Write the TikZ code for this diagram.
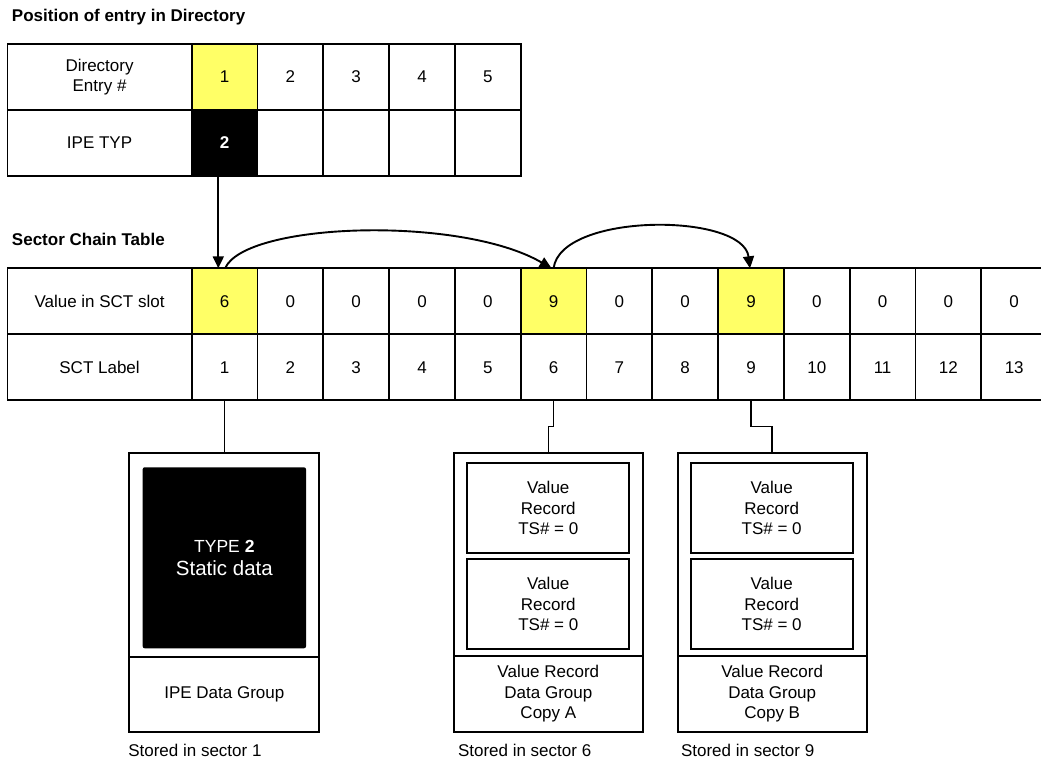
\documentclass[tikz,border=0pt]{standalone}
\usepackage{fontspec}
\setmainfont{Liberation Sans}
\usetikzlibrary{arrows.meta,calc}
\definecolor{hiyel}{RGB}{255,255,102}
\newcommand{\dgbody}{\fontsize{17}{20.5}\selectfont}
\newcommand{\dgbig}{\fontsize{20.5}{23.4}\selectfont}
\newcommand{\dgtitle}{\fontsize{17}{20}\selectfont\bfseries}
\begin{document}
\begin{tikzpicture}[x=1pt,y=-1pt,
  every node/.style={inner sep=0pt, outer sep=0pt},
  tcell/.style={draw=black, line width=1.8pt, minimum width=65.8pt, minimum height=66pt,
    anchor=north west, font=\dgbody, align=center},
  lcell/.style={tcell, minimum width=184.3pt},
  hcell/.style={tcell, fill=hiyel},
  bcell/.style={tcell, fill=black, text=white, font=\dgbody\bfseries},
  boxs/.style={draw=black, line width=1.8pt, anchor=north west, font=\dgbody, align=center},
  conn/.style={draw=black, line width=1.6pt},
  arr/.style={draw=black, line width=1.9pt, -{Triangle[length=12pt,width=11pt]}},
  stored/.style={anchor=base west, font=\dgbody}
]
\useasboundingbox (0,0) rectangle (1041,762);
\clip (0,0) rectangle (1041,762);

% titles
\node[anchor=base west, font=\dgtitle] (title1) at (12,21.5) {Position of entry in Directory};
\node[anchor=base west, font=\dgtitle] (title2) at (12,245.5) {Sector Chain Table};

% directory table
\node[lcell] (dlab) at (7.4,44) {Directory\\Entry \#};
\node[hcell] (d1) at (191.7,44) {1};
\foreach \i in {2,...,5} \node[tcell] (d\i) at ({191.7+65.8*(\i-1)},44) {\i};
\node[lcell] (tlab) at (7.4,110) {IPE TYP};
\node[bcell] (t1) at (191.7,110) {2};
\foreach \i in {2,...,5} \node[tcell] (t\i) at ({191.7+65.8*(\i-1)},110) {};

% sector chain table
\node[lcell] (vlab) at (7.4,268.3) {Value in SCT slot};
\foreach \i/\v/\s in {1/6/hcell,2/0/tcell,3/0/tcell,4/0/tcell,5/0/tcell,6/9/hcell,7/0/tcell,
  8/0/tcell,9/9/hcell,10/0/tcell,11/0/tcell,12/0/tcell,13/0/tcell}
  \node[\s] (v\i) at ({191.7+65.8*(\i-1)},268.3) {\v};
\node[lcell] (llab) at (7.4,334.3) {SCT Label};
\foreach \i in {1,...,13} \node[tcell] (l\i) at ({191.7+65.8*(\i-1)},334.3) {\i};

% box 1
\node[boxs, minimum width=190pt, minimum height=203.4pt] (b1top) at (129.3,453.3) {};
\node[boxs, minimum width=190pt, minimum height=75.6pt] (b1bot) at (129.3,656.7) {IPE Data Group};
\node[anchor=north west, fill=black, rounded corners=2pt, minimum width=163.3pt, minimum height=181pt,
  text=white, align=center, font=\dgbig] (type2) at (142.7,467.3)
  {{\fontsize{17.5}{20}\selectfont TYPE \textbf{2}}\\Static data};

% box 2
\node[boxs, minimum width=188.7pt, minimum height=202.4pt] (b2top) at (454,453.3) {};
\node[boxs, minimum width=188.7pt, minimum height=76pt] (b2bot) at (454,655.7) {Value Record\\Data Group\\Copy A};
\node[boxs, minimum width=162pt, minimum height=90.6pt] (a1) at (467.3,462.7) {Value\\Record\\TS\# = 0};
\node[boxs, minimum width=162pt, minimum height=90pt] (a2) at (467.3,559.3) {Value\\Record\\TS\# = 0};

% box 3
\node[boxs, minimum width=189pt, minimum height=202.4pt] (b3top) at (677.7,453.3) {};
\node[boxs, minimum width=189pt, minimum height=76pt] (b3bot) at (677.7,655.7) {Value Record\\Data Group\\Copy B};
\node[boxs, minimum width=162pt, minimum height=90.6pt] (c1) at (690.7,462.7) {Value\\Record\\TS\# = 0};
\node[boxs, minimum width=162pt, minimum height=90pt] (c2) at (690.7,559.3) {Value\\Record\\TS\# = 0};

% stored labels
\node[stored] (s1) at (128.3,756) {Stored in sector 1};
\node[stored] (s2) at (458,756) {Stored in sector 6};
\node[stored] (s3) at (681,756) {Stored in sector 9};

% connectors
\draw[conn] (l1.south) -- (l1.south |- b1top.north);
\draw[conn] (l6.south) -- ++(0,26.3) -| (b2top.north);
\draw[conn] (l9.south) -- ++(0,26.3) -| (b3top.north);

% arrows
\draw[arr] ([xshift=-6.3pt]t1.south) -- ([xshift=-6.3pt]v1.north);
\draw[arr] ([xshift=0.5pt]v1.north) .. controls +(20,-46) and +(-91,-53) .. ([xshift=-2pt]v6.north);
\draw[arr] (v6.north) .. controls +(7,-56) and +(-7,-56) .. ([xshift=-1pt]v9.north);
\end{tikzpicture}
\end{document}
